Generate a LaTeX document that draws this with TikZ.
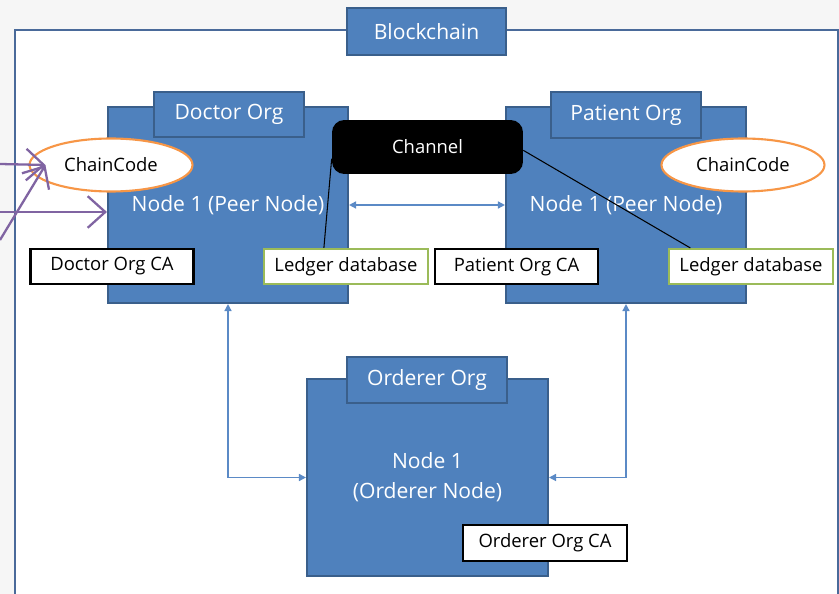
\documentclass[tikz,border=0pt]{standalone}
\usepackage{fontspec}
\setmainfont{Open Sans}
\usetikzlibrary{arrows.meta,shapes.geometric,positioning}
\definecolor{orgblue}{HTML}{4F81BD}
\definecolor{orgedge}{HTML}{3A5F8B}
\definecolor{framec}{HTML}{4A6A9A}
\definecolor{codeorange}{HTML}{F79646}
\definecolor{ledgergreen}{HTML}{9BBB59}
\definecolor{callpurple}{HTML}{8064A2}
\definecolor{linkblue}{HTML}{5B8AC6}

\begin{document}
\begin{tikzpicture}[x=0.02cm,y=-0.02cm,
  orgbox/.style={draw=orgedge,fill=orgblue,line width=1.2pt,text=white,inner sep=0pt,
    font=\fontsize{12}{17}\selectfont,align=center},
  cabox/.style={draw=black,fill=white,line width=1.2pt,inner sep=0pt,
    minimum width=3.26cm,minimum height=0.7cm,font=\fontsize{10.5}{12}\selectfont},
  ledgerbox/.style={cabox,draw=ledgergreen},
  codeshape/.style={ellipse,draw=codeorange,fill=white,line width=1.2pt,inner sep=0pt,
    minimum width=3.26cm,minimum height=1.06cm,font=\fontsize{10.5}{12}\selectfont},
  link/.style={draw=linkblue,line width=0.8pt,{Triangle[length=4pt,width=4pt]}-{Triangle[length=4pt,width=4pt]}},
  callarrow/.style={draw=callpurple,line width=1.3pt,-{Straight Barb[length=10pt,width=18pt,line width=1.3pt]}},
  channelline/.style={draw=black,line width=0.6pt}]

  \useasboundingbox (0,0) rectangle (839,594);
  \fill[gray!7] (0,0) rectangle (839,594);          % slide background
  \fill[white] (15,30) rectangle (838,594);
  \draw[framec,line width=1.3pt] (15,594) -- (15,30) -- (838,30) -- (838,594); % blockchain frame

  \node[orgbox,minimum width=3.18cm,minimum height=0.94cm] (chain) at (426.5,31.5) {Blockchain};

  % peer orgs
  \node[orgbox,minimum width=4.8cm,minimum height=3.92cm] (doctor) at (228,205) {Node 1 (Peer Node)};
  \node[orgbox,minimum width=3cm,minimum height=0.9cm] (doctortab) at (229,114.5) {Doctor Org};
  \node[orgbox,minimum width=4.8cm,minimum height=3.92cm] (patient) at (626,205) {Node 1 (Peer Node)};
  \node[orgbox,minimum width=3cm,minimum height=0.92cm] (patienttab) at (626,115) {Patient Org};

  % orderer org
  \node[orgbox,minimum width=4.82cm,minimum height=3.94cm] (orderer) at (427.5,477.5) {Node 1\\(Orderer Node)};
  \node[orgbox,minimum width=3.2cm,minimum height=0.92cm] (orderertab) at (427,380) {Orderer Org};
  \node[cabox,minimum width=3.28cm,minimum height=0.72cm] (ordererca) at (545,543) {Orderer Org CA};

  \draw[link] (doctor) -- (patient);
  \draw[link] (doctor.south) |- (orderer.west);
  \draw[link] (patient.south) |- (orderer.east);

  \node[cabox] (doctorca) at (112,266.5) {Doctor Org CA};
  \node[ledgerbox,minimum width=3.28cm] (ledgerA) at (346,266.5) {Ledger database};
  \node[cabox] (patientca) at (516.5,266.5) {Patient Org CA};
  \node[ledgerbox,minimum width=3.28cm] (ledgerB) at (751,266.5) {Ledger database};

  \node[fill=black,text=white,rounded corners=7pt,minimum width=3.82cm,minimum height=1.08cm,
    font=\fontsize{10.5}{12}\selectfont] (channel) at (427.5,147) {Channel};
  \draw[channelline] (channel.187) -- (ledgerA.140);
  \draw[channelline] (channel.-2) -- (ledgerB.163);

  \node[codeshape] (codeA) at (111,165) {ChainCode};
  \node[codeshape] (codeB) at (743,165) {ChainCode};

  % calls from outside
  \coordinate (callA) at (0,164);
  \coordinate (callB) at (0,240);
  \coordinate (callC) at (0,212);
  \coordinate (hit) at ([xshift=0.34cm]codeA.west);
  \draw[callarrow] (callA) -- (hit);
  \draw[callarrow] (callB) -- (hit);
  \draw[callarrow] (callC) -- (callC -| doctor.west);
\end{tikzpicture}
\end{document}
